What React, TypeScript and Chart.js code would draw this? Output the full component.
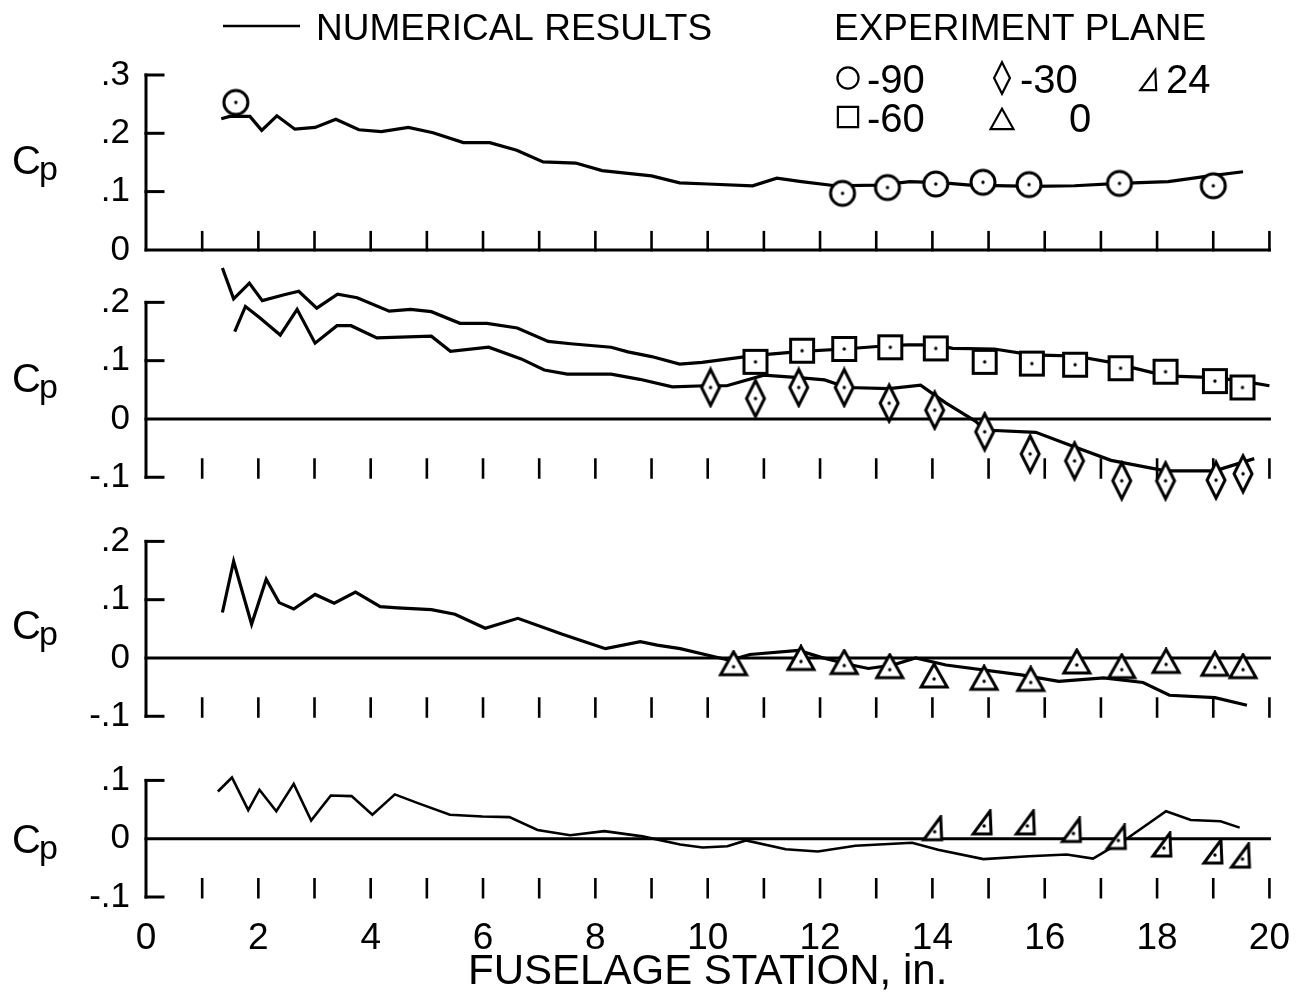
import React, { useEffect, useRef } from 'react';
import { Chart, registerables } from 'chart.js';

Chart.register(...registerables);

// ---------- tick labels ----------
const xTicks = [0, 2, 4, 6, 8, 10, 12, 14, 16, 18, 20];
const p1Ticks = [0, 0.1, 0.2, 0.3];
const p2Ticks = [-0.1, 0, 0.1, 0.2];
const p3Ticks = [-0.1, 0, 0.1, 0.2];
const p4Ticks = [-0.1, 0, 0.1];

// ---------- panel 1 : plane -90 ----------
const n90X = [1.34, 1.49, 1.85, 2.06, 2.33, 2.65, 3.01, 3.38, 3.79, 4.19, 4.67, 5.11, 5.65, 6.12, 6.6, 7.07, 7.65, 8.12, 9.0, 9.5, 10.0, 10.8, 11.23, 11.67, 12.27, 13.07, 13.6, 14.2, 14.67, 15.8, 16.53, 17.33, 18.2, 18.87, 19.53];
const n90Y = [0.225, 0.229, 0.229, 0.205, 0.23, 0.207, 0.21, 0.224, 0.206, 0.203, 0.21, 0.201, 0.184, 0.184, 0.171, 0.151, 0.149, 0.136, 0.127, 0.115, 0.113, 0.11, 0.123, 0.117, 0.11, 0.111, 0.117, 0.115, 0.111, 0.109, 0.11, 0.114, 0.117, 0.126, 0.134];
const e90X = [1.6, 12.4, 13.2, 14.06, 14.9, 15.72, 17.33, 19.0];
const e90Y = [0.253, 0.097, 0.107, 0.113, 0.116, 0.112, 0.114, 0.11];

// ---------- panel 2 : planes -60 and -30 ----------
const n60X = [1.36, 1.56, 1.84, 2.07, 2.46, 2.72, 3.04, 3.41, 3.76, 4.33, 4.71, 5.08, 5.59, 6.07, 6.61, 7.16, 7.56, 8.28, 8.58, 9.0, 9.5, 9.9, 10.85, 11.68, 12.43, 13.25, 13.56, 14.06, 14.36, 15.1, 15.77, 16.1, 16.54, 17.18, 18.15, 19.03, 19.52, 20.0];
const n60Y = [0.259, 0.206, 0.233, 0.203, 0.213, 0.219, 0.19, 0.214, 0.208, 0.185, 0.188, 0.184, 0.164, 0.164, 0.156, 0.133, 0.129, 0.123, 0.115, 0.107, 0.094, 0.097, 0.109, 0.116, 0.12, 0.126, 0.127, 0.127, 0.121, 0.12, 0.11, 0.109, 0.108, 0.097, 0.074, 0.071, 0.065, 0.057];
const e60X = [10.85, 11.68, 12.43, 13.25, 14.06, 14.93, 15.77, 16.54, 17.35, 18.15, 19.03, 19.52];
const e60Y = [0.098, 0.117, 0.12, 0.123, 0.121, 0.098, 0.095, 0.093, 0.087, 0.081, 0.065, 0.054];

const n30X = [1.58, 1.77, 2.02, 2.39, 2.69, 3.01, 3.4, 3.65, 4.11, 5.08, 5.42, 6.1, 6.68, 7.09, 7.5, 8.28, 8.79, 9.37, 9.95, 10.34, 11.0, 11.62, 12.08, 12.48, 13.23, 13.79, 14.23, 14.77, 14.93, 15.84, 16.5, 17.18, 18.15, 19.03, 19.73];
const n30Y = [0.15, 0.193, 0.174, 0.144, 0.188, 0.13, 0.16, 0.16, 0.139, 0.142, 0.116, 0.123, 0.103, 0.084, 0.077, 0.077, 0.068, 0.055, 0.057, 0.057, 0.075, 0.071, 0.067, 0.054, 0.052, 0.058, 0.028, -0.004, -0.019, -0.023, -0.047, -0.071, -0.089, -0.089, -0.068];
const e30X = [10.05, 10.85, 11.62, 12.43, 13.23, 14.04, 14.93, 15.74, 16.53, 17.37, 18.15, 19.05, 19.53];
const e30Y = [0.054, 0.035, 0.054, 0.054, 0.027, 0.015, -0.022, -0.06, -0.072, -0.106, -0.106, -0.105, -0.094];

// ---------- panel 3 : plane 0 ----------
const n0X = [1.36, 1.56, 1.88, 2.14, 2.37, 2.63, 3.01, 3.35, 3.73, 4.17, 4.48, 5.08, 5.5, 6.04, 6.62, 7.4, 7.81, 8.18, 8.8, 9.1, 9.51, 10.12, 10.4, 10.75, 11.62, 12.02, 12.56, 12.86, 13.3, 13.7, 14.24, 15.58, 16.25, 17.05, 17.75, 18.22, 19.03, 19.6];
const n0Y = [0.078, 0.166, 0.058, 0.135, 0.095, 0.084, 0.109, 0.094, 0.113, 0.088, 0.086, 0.083, 0.075, 0.051, 0.068, 0.041, 0.028, 0.016, 0.028, 0.022, 0.016, 0.002, -0.004, 0.006, 0.013, 0.001, -0.012, -0.018, -0.012, 0.0, -0.012, -0.029, -0.04, -0.034, -0.042, -0.064, -0.068, -0.081];
const e0X = [10.46, 11.66, 12.43, 13.24, 14.03, 14.92, 15.75, 16.57, 17.37, 18.16, 19.03, 19.53];
const e0Y = [-0.015, -0.006, -0.013, -0.02, -0.036, -0.04, -0.042, -0.012, -0.02, -0.011, -0.016, -0.02];

// ---------- panel 4 : plane 24 ----------
const n24X = [1.28, 1.53, 1.82, 2.02, 2.32, 2.63, 2.94, 3.29, 3.66, 4.03, 4.43, 4.84, 5.41, 5.99, 6.47, 6.97, 7.55, 8.16, 8.84, 9.51, 9.91, 10.35, 10.68, 11.39, 11.96, 12.63, 13.64, 14.1, 14.91, 15.72, 16.39, 16.86, 17.46, 18.16, 18.6, 19.13, 19.47];
const n24Y = [0.081, 0.105, 0.049, 0.084, 0.047, 0.094, 0.031, 0.074, 0.073, 0.041, 0.076, 0.061, 0.041, 0.038, 0.037, 0.015, 0.006, 0.013, 0.004, -0.01, -0.015, -0.013, -0.003, -0.018, -0.022, -0.012, -0.007, -0.019, -0.035, -0.03, -0.027, -0.034, 0.0, 0.047, 0.032, 0.03, 0.019];
const e24X = [14.04, 14.92, 15.69, 16.51, 17.31, 18.12, 19.03, 19.52];
const e24Y = [0.012, 0.022, 0.022, 0.009, -0.003, -0.016, -0.028, -0.035];

const FONT = '"Liberation Sans", "DejaVu Sans", Arial, sans-serif';

const zip = (xs: number[], ys: number[]) => xs.map((x, i) => ({ x, y: ys[i] }));

type Kind = 'circle' | 'square' | 'diamond' | 'triangle' | 'rtri';

function shapePath(ctx: CanvasRenderingContext2D, kind: Kind, cx: number, cy: number, s: number) {
  ctx.beginPath();
  if (kind === 'circle') {
    ctx.arc(cx, cy, 12 * s, 0, Math.PI * 2);
  } else if (kind === 'square') {
    ctx.rect(cx - 11.5 * s, cy - 11.5 * s, 23 * s, 23 * s);
  } else if (kind === 'diamond') {
    ctx.moveTo(cx, cy - 18 * s);
    ctx.lineTo(cx + 9 * s, cy);
    ctx.lineTo(cx, cy + 18 * s);
    ctx.lineTo(cx - 9 * s, cy);
    ctx.closePath();
  } else if (kind === 'triangle') {
    ctx.moveTo(cx, cy - 15 * s);
    ctx.lineTo(cx + 13 * s, cy + 8 * s);
    ctx.lineTo(cx - 13 * s, cy + 8 * s);
    ctx.closePath();
  } else {
    ctx.moveTo(cx + 6 * s, cy - 15 * s);
    ctx.lineTo(cx + 7 * s, cy + 8 * s);
    ctx.lineTo(cx - 11 * s, cy + 8 * s);
    ctx.closePath();
  }
}

function makeMarker(kind: Kind): HTMLCanvasElement {
  const c = document.createElement('canvas');
  const w = kind === 'diamond' ? 24 : 32;
  const h = kind === 'diamond' ? 42 : 34;
  c.width = w;
  c.height = h;
  const ctx = c.getContext('2d')!;
  const cx = w / 2;
  const cy = h / 2;
  shapePath(ctx, kind, cx, cy, 1);
  ctx.fillStyle = '#fff';
  ctx.fill();
  ctx.lineWidth = 3;
  ctx.strokeStyle = '#000';
  ctx.lineJoin = 'miter';
  ctx.stroke();
  ctx.beginPath();
  ctx.arc(cx, cy, 1.7, 0, Math.PI * 2);
  ctx.fillStyle = '#000';
  ctx.fill();
  return c;
}

const panelDefs = [
  { id: 'y1', ticks: p1Ticks, cpAt: 0.155 },
  { id: 'y2', ticks: p2Ticks, cpAt: 0.07 },
  { id: 'y3', ticks: p3Ticks, cpAt: 0.057 },
  { id: 'y4', ticks: p4Ticks, cpAt: 0.0 },
];

const framePlugin = {
  id: 'frame',
  beforeDatasetsDraw(chart: any) {
    const ctx: CanvasRenderingContext2D = chart.ctx;
    const xs = chart.scales.x;
    const L = xs.getPixelForValue(0);
    const R = xs.getPixelForValue(20);
    const seg = (x1: number, y1: number, x2: number, y2: number) => {
      ctx.beginPath();
      ctx.moveTo(x1, y1);
      ctx.lineTo(x2, y2);
      ctx.stroke();
    };
    ctx.save();
    ctx.strokeStyle = '#000';
    panelDefs.forEach((p) => {
      const ys = chart.scales[p.id];
      const top = ys.getPixelForValue(p.ticks[p.ticks.length - 1]);
      const bot = ys.getPixelForValue(p.ticks[0]);
      const zero = ys.getPixelForValue(0);
      ctx.lineCap = 'square';
      ctx.lineWidth = 3;
      seg(L, top, L, bot);
      p.ticks.forEach((t) => {
        if (t !== 0) seg(L, ys.getPixelForValue(t), L + 17, ys.getPixelForValue(t));
      });
      seg(L, zero, R, zero);
      ctx.lineWidth = 2.6;
      ctx.lineCap = 'butt';
      for (let i = 1; i <= 20; i++) {
        const px = xs.getPixelForValue(i);
        seg(px, bot + 1.5, px, bot - 19);
      }
    });
    ctx.restore();
  },
  afterDraw(chart: any) {
    const ctx: CanvasRenderingContext2D = chart.ctx;
    ctx.save();
    ctx.fillStyle = '#000';
    ctx.strokeStyle = '#000';
    // Cp labels
    panelDefs.forEach((p) => {
      const ys = chart.scales[p.id];
      const cy = ys.getPixelForValue(p.cpAt);
      ctx.textBaseline = 'alphabetic';
      ctx.textAlign = 'left';
      ctx.font = `40px ${FONT}`;
      ctx.fillText('C', 12, cy + 14);
      ctx.font = `34px ${FONT}`;
      ctx.fillText('p', 39, cy + 20);
    });
    // legend
    ctx.font = `37px ${FONT}`;
    ctx.textBaseline = 'alphabetic';
    ctx.textAlign = 'left';
    ctx.lineWidth = 2.5;
    ctx.beginPath();
    ctx.moveTo(223, 26);
    ctx.lineTo(300, 26);
    ctx.stroke();
    ctx.fillText('NUMERICAL RESULTS', 316, 40);
    ctx.fillText('EXPERIMENT PLANE', 834, 40);
    const sym = (kind: Kind, cx: number, cy: number) => {
      shapePath(ctx, kind, cx, cy, 0.88);
      ctx.lineWidth = 2.2;
      ctx.stroke();
    };
    ctx.font = `40px ${FONT}`;
    sym('circle', 848, 78);
    ctx.fillText('-90', 867, 93);
    sym('diamond', 1002, 78);
    ctx.fillText('-30', 1020, 93);
    sym('rtri', 1150, 83);
    ctx.fillText('24', 1166, 93);
    sym('square', 848, 117);
    ctx.fillText('-60', 867, 132);
    sym('triangle', 1002, 122);
    ctx.fillText('0', 1069, 132);
    ctx.restore();
  },
};

const tickLabel = (v: number) => {
  if (Math.abs(v) < 1e-9) return '0';
  const d = Math.round(Math.abs(v) * 10);
  return (v < 0 ? '-' : '') + '.' + d;
};

function yScale(ticks: number[], min: number, max: number, stackWeight: number, weight: number) {
  return {
    type: 'linear',
    position: 'left',
    stack: 'cp',
    stackWeight,
    weight,
    min,
    max,
    grid: { display: false, drawTicks: false },
    border: { display: false },
    afterBuildTicks: (s: any) => {
      s.ticks = ticks.map((value) => ({ value }));
    },
    afterFit: (s: any) => {
      s.width = 146;
    },
    ticks: {
      color: '#000',
      padding: 16,
      autoSkip: false,
      font: { family: FONT, size: 35 },
      callback: (v: any) => tickLabel(Number(v)),
    },
  };
}

export default function App() {
  const ref = useRef<HTMLCanvasElement | null>(null);

  useEffect(() => {
    const mk = {
      circle: makeMarker('circle'),
      square: makeMarker('square'),
      diamond: makeMarker('diamond'),
      triangle: makeMarker('triangle'),
      rtri: makeMarker('rtri'),
    };
    const line = (xs: number[], ys: number[], yAxisID: string, w = 3.2) => ({
      type: 'line',
      data: zip(xs, ys),
      yAxisID,
      borderColor: '#000',
      borderWidth: w,
      pointRadius: 0,
      tension: 0,
      fill: false,
      clip: false,
      order: 2,
    });
    const pts = (xs: number[], ys: number[], yAxisID: string, style: HTMLCanvasElement) => ({
      type: 'line',
      data: zip(xs, ys),
      yAxisID,
      showLine: false,
      pointStyle: style,
      pointRadius: 10,
      clip: false,
      order: 1,
    });
    const chart = new Chart(ref.current!, {
      type: 'line',
      data: {
        datasets: [
          line(n90X, n90Y, 'y1'),
          line(n60X, n60Y, 'y2'),
          line(n30X, n30Y, 'y2'),
          line(n0X, n0Y, 'y3'),
          line(n24X, n24Y, 'y4', 2.6),
          pts(e90X, e90Y, 'y1', mk.circle),
          pts(e60X, e60Y, 'y2', mk.square),
          pts(e30X, e30Y, 'y2', mk.diamond),
          pts(e0X, e0Y, 'y3', mk.triangle),
          pts(e24X, e24Y, 'y4', mk.rtri),
        ] as any,
      },
      options: {
        responsive: false,
        animation: false,
        devicePixelRatio: 1,
        layout: { padding: { left: 0, right: 27, top: 75, bottom: 0 } },
        plugins: { legend: { display: false }, tooltip: { enabled: false }, title: { display: false } },
        scales: {
          x: {
            type: 'linear',
            position: 'bottom',
            min: 0,
            max: 20,
            grid: { display: false, drawTicks: false },
            border: { display: false },
            afterBuildTicks: (s: any) => {
              s.ticks = xTicks.map((value) => ({ value }));
            },
            afterFit: (s: any) => {
              s.height = 106;
            },
            ticks: {
              color: '#000',
              padding: 20,
              maxRotation: 0,
              autoSkip: false,
              font: { family: FONT, size: 37 },
              callback: (v: any) => String(v),
            },
            title: {
              display: true,
              text: 'FUSELAGE STATION, in.',
              color: '#000',
              font: { family: FONT, size: 42 },
              padding: { top: 0, bottom: 5 },
            },
          },
          y1: yScale(p1Ticks, 0, 0.3, 3.0, 4),
          y2: yScale(p2Ticks, -0.1, 0.29, 3.9, 3),
          y3: yScale(p3Ticks, -0.1, 0.31, 4.1, 2),
          y4: yScale(p4Ticks, -0.1, 0.21, 3.1, 1),
        } as any,
      },
      plugins: [framePlugin],
    });
    return () => chart.destroy();
  }, []);

  return (
    <div style={{ position: 'fixed', left: 0, top: 0, width: 1310, height: 1003, background: '#fff' }}>
      <canvas ref={ref} width={1310} height={1003} style={{ width: 1310, height: 1003, display: 'block' }} />
    </div>
  );
}
